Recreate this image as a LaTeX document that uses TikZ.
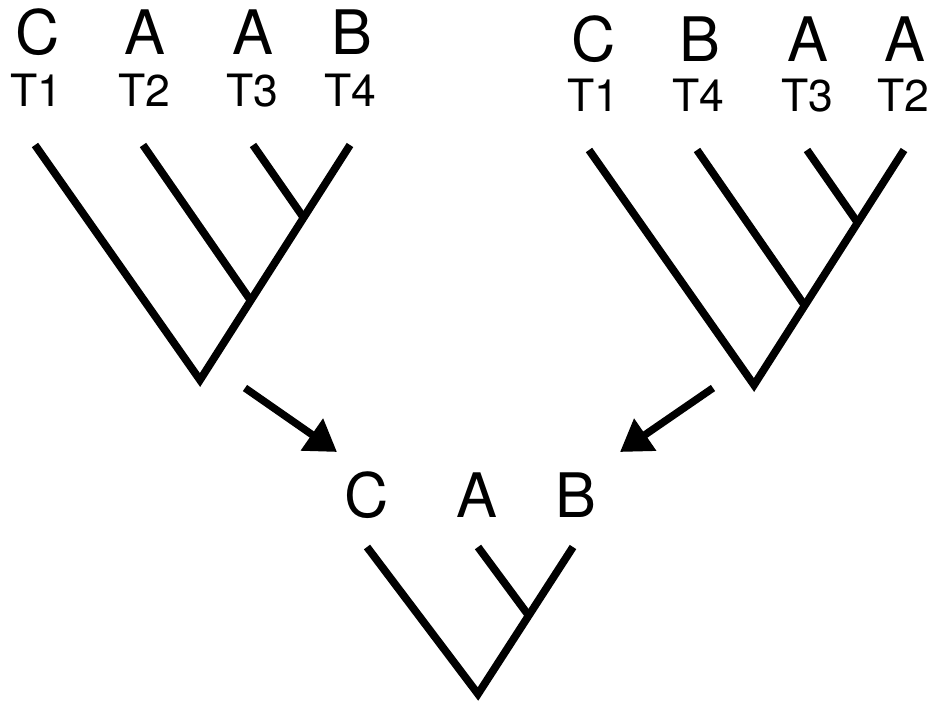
\documentclass[tikz,border=0pt]{standalone}
\usepackage{fontspec}
\setmainfont{TeX Gyre Heros}
\usetikzlibrary{arrows.meta}
\begin{document}
\begin{tikzpicture}[x=0.75pt,y=-0.75pt,
  branch/.style={line width=5.8pt,line cap=butt},
  taxon/.style={anchor=base,inner sep=0pt,font=\fontsize{46}{50}\selectfont},
  tlabel/.style={anchor=base,inner sep=0pt,font=\fontsize{33.4}{36}\selectfont},
  movearrow/.style={line width=5.6pt,-{Triangle[length=23pt,width=28pt]}}]
\useasboundingbox (0,0) rectangle (935,702);
% left tree labels
\node[taxon] (lC) at (38,55) {C};
\node[taxon] (lA1) at (145,55) {A};
\node[taxon] (lA2) at (253,55) {A};
\node[taxon] (lB) at (352,55) {B};
\node[tlabel] (lT1) at (36,107) {T1};
\node[tlabel] (lT2) at (144,107) {T2};
\node[tlabel] (lT3) at (252,107) {T3};
\node[tlabel] (lT4) at (350,107) {T4};
% left tree
\coordinate (l1) at (35,145);
\coordinate (l2) at (143,145);
\coordinate (l3) at (253,145);
\coordinate (l4) at (350,145);
\coordinate (lj34) at (303.8,218);
\coordinate (lj234) at (251,301);
\coordinate (lr) at (200,380);
\draw[branch] (l1) -- (lr) -- (l4);
\draw[branch] (l2) -- (lj234);
\draw[branch] (l3) -- (lj34);
% right tree labels
\node[taxon] (rC) at (594,62) {C};
\node[taxon] (rB) at (700,62) {B};
\node[taxon] (rA1) at (808,62) {A};
\node[taxon] (rA2) at (905,62) {A};
\node[tlabel] (rT1) at (593,112) {T1};
\node[tlabel] (rT4) at (698,112) {T4};
\node[tlabel] (rT3) at (807,112) {T3};
\node[tlabel] (rT2) at (903,112) {T2};
% right tree
\coordinate (r1) at (589,150);
\coordinate (r2) at (697,150);
\coordinate (r3) at (807,150);
\coordinate (r4) at (904,150);
\coordinate (rj34) at (857.8,223);
\coordinate (rj234) at (805,306);
\coordinate (rr) at (754,385);
\draw[branch] (r1) -- (rr) -- (r4);
\draw[branch] (r2) -- (rj234);
\draw[branch] (r3) -- (rj34);
% arrows
\coordinate (la0) at (245,388);
\coordinate (la1) at (337,452);
\coordinate (ra0) at (713,388);
\coordinate (ra1) at (620,452);
\draw[movearrow] (la0) -- (la1);
\draw[movearrow] (ra0) -- (ra1);
% bottom tree labels
\node[taxon] (bC) at (367,517) {C};
\node[taxon] (bA) at (477,517) {A};
\node[taxon] (bB) at (576,517) {B};
% bottom tree
\coordinate (b1) at (367,547);
\coordinate (b2) at (478,547);
\coordinate (b3) at (573,547);
\coordinate (bj) at (529,616);
\coordinate (br) at (478,694);
\draw[branch] (b1) -- (br) -- (b3);
\draw[branch] (b2) -- (bj);
\end{tikzpicture}
\end{document}
